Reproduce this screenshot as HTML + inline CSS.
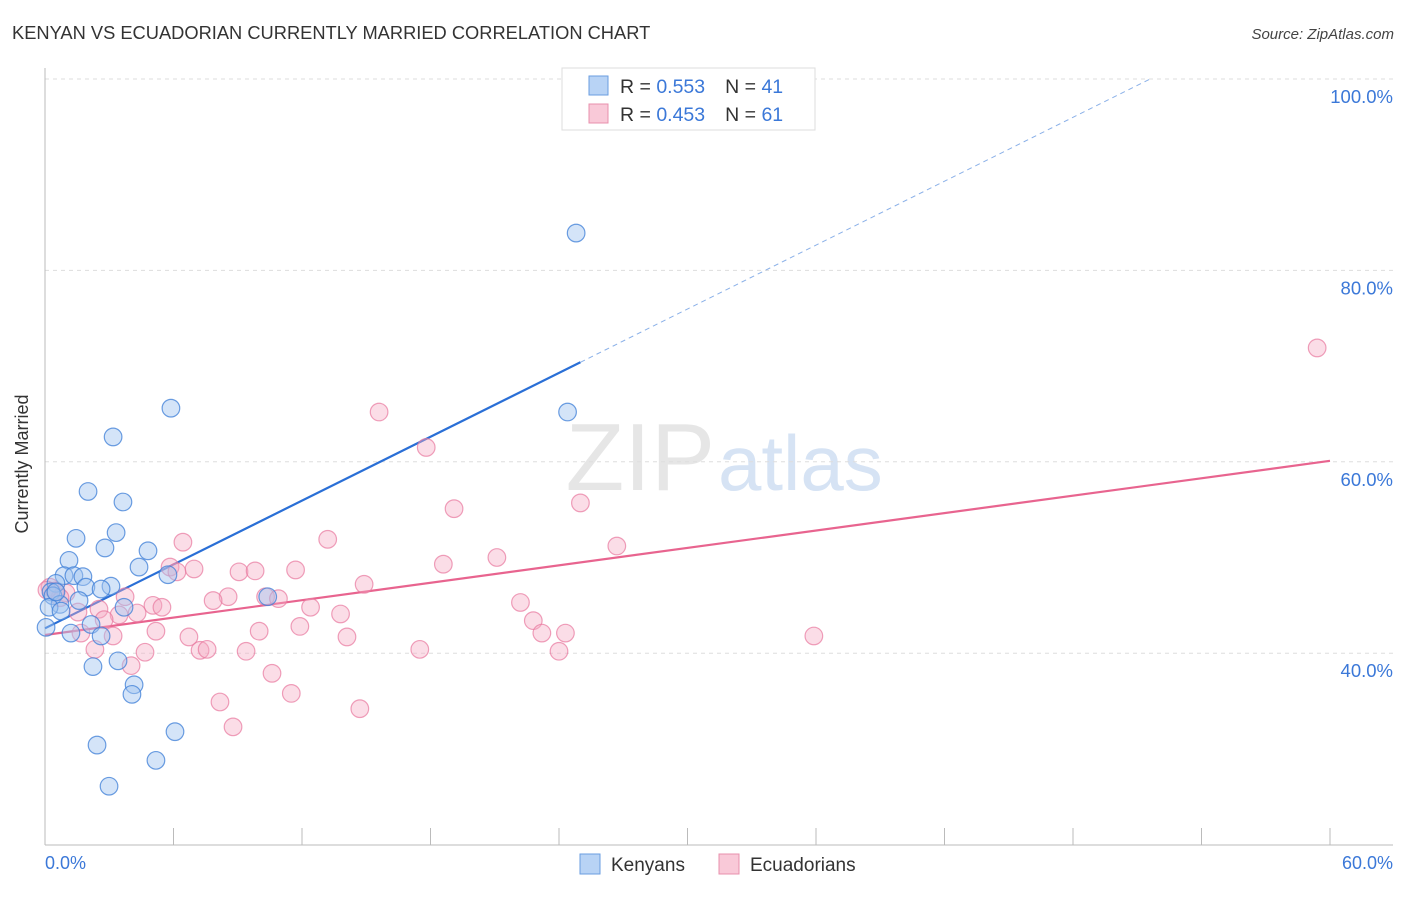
<!DOCTYPE html>
<html><head><meta charset="utf-8"><style>
body{margin:0;background:#fff;font-family:"Liberation Sans",sans-serif;}
svg text{font-family:"Liberation Sans",sans-serif;}
</style></head><body>
<svg id="chart" width="1406" height="892" viewBox="0 0 1406 892">
<text x="12" y="39" font-size="18.3" fill="#333">KENYAN VS ECUADORIAN CURRENTLY MARRIED CORRELATION CHART</text>
<text x="1394" y="39" font-size="15" fill="#444" font-style="italic" text-anchor="end">Source: ZipAtlas.com</text>
<text x="715" y="490" font-size="96" fill="#e6e6e6" font-family="Liberation Serif" text-anchor="end">ZIP</text>
<text x="718" y="490" font-size="78" fill="#d6e3f4">atlas</text>
<g id="grid"></g>
<line x1="45" y1="68" x2="45" y2="845" stroke="#bbb"/>
<line x1="45" y1="845" x2="1393" y2="845" stroke="#bbb"/>
<g id="xticks"></g>
<text x="20" y="456" font-size="18" fill="#333" transform="rotate(-90 28 456)" text-anchor="middle">Currently Married</text>
<text x="45" y="869" font-size="18" fill="#3b78d8">0.0%</text>
<text x="1393" y="869" font-size="18" fill="#3b78d8" text-anchor="end">60.0%</text>
<g id="lines"></g>
<g id="pts"></g>
<g>
<rect x="562" y="68" width="253" height="62" fill="#fff" stroke="#ddd"/>
<rect x="589" y="76" width="19" height="19" fill="#b8d3f5" stroke="#6a9ee0"/>
<rect x="589" y="104" width="19" height="19" fill="#f9c9d8" stroke="#e890ad"/>
<text x="620" y="93" font-size="19.5" fill="#333">R = <tspan fill="#3b78d8">0.553</tspan><tspan dx="20">N = </tspan><tspan fill="#3b78d8">41</tspan></text>
<text x="620" y="121" font-size="19.5" fill="#333">R = <tspan fill="#3b78d8">0.453</tspan><tspan dx="20">N = </tspan><tspan fill="#3b78d8">61</tspan></text>
</g>
<g>
<rect x="580" y="854" width="20" height="20" fill="#b8d3f5" stroke="#6a9ee0"/>
<text x="611" y="871" font-size="19" fill="#333">Kenyans</text>
<rect x="719" y="854" width="20" height="20" fill="#f9c9d8" stroke="#e890ad"/>
<text x="750" y="871" font-size="19" fill="#333">Ecuadorians</text>
</g>
</svg>
<script>
const yTicks=[40,60,80,100];
const yTickLabels=["40.0%","60.0%","80.0%","100.0%"];
const kenX=[24.8,24.4,5.88,3.18,2.01,3.64,1.45,3.32,2.80,4.81,1.12,4.39,5.74,0.89,1.35,1.77,0.51,1.91,3.08,2.62,0.28,0.37,0.70,1.59,3.69,0.19,10.4,2.15,1.21,2.62,0.05,3.41,2.24,4.16,4.06,2.43,5.18,6.07,2.99,0.51,0.75];
const kenY=[83.9,65.2,65.6,62.6,56.9,55.8,52.0,52.6,51.0,50.7,49.7,49.0,48.2,48.1,48.1,48.0,47.3,46.9,47.0,46.7,46.4,46.0,45.1,45.5,44.8,44.8,45.9,43.0,42.1,41.8,42.7,39.2,38.6,36.7,35.7,30.4,28.8,31.8,26.1,46.4,44.4];
const ecuX=[59.4,15.6,17.8,19.1,25.0,13.2,6.44,26.7,21.1,18.6,5.84,6.96,6.16,9.06,9.81,11.7,14.9,0.23,0.98,8.55,7.85,10.3,10.9,3.74,5.04,5.46,12.4,2.52,22.2,4.30,3.46,13.8,2.76,22.8,11.9,5.18,10.0,1.68,23.2,24.3,3.18,6.72,14.1,35.9,2.33,4.67,7.24,7.57,9.39,17.5,24.0,4.02,10.6,11.5,8.17,14.7,8.78,0.47,0.70,0.09,1.54];
const ecuY=[71.9,65.2,61.5,55.1,55.7,51.9,51.6,51.2,50.0,49.3,49.0,48.8,48.5,48.5,48.6,48.7,47.2,46.9,46.3,45.9,45.5,45.9,45.7,45.9,45.0,44.8,44.8,44.6,45.3,44.2,44.0,44.1,43.5,43.4,42.8,42.3,42.3,42.1,42.1,42.1,41.8,41.7,41.7,41.8,40.4,40.1,40.3,40.4,40.2,40.4,40.2,38.7,37.9,35.8,34.9,34.2,32.3,46.5,45.8,46.6,44.3];
const kenLine=[0,42.6,25.0,70.4,51.6,100];
const ecuLine=[0,41.9,60,60.1];
const NS="http://www.w3.org/2000/svg";
const xs=v=>45+v*(1285/60);
const ys=v=>79+(100-v)*9.57;
function mk(tag,attrs,parent){const e=document.createElementNS(NS,tag);for(const k in attrs)e.setAttribute(k,attrs[k]);parent.appendChild(e);return e;}
const grid=document.getElementById('grid');
yTicks.forEach((t,i)=>{
 const l=mk('line',{x1:45,x2:1393,y1:ys(t),y2:ys(t),stroke:'#ddd','stroke-dasharray':'4,4'},grid);
 
 
 const tx=mk('text',{x:1393,y:ys(t)+24,'font-size':18.5,fill:'#3b78d8','text-anchor':'end'},grid);
 tx.textContent=yTickLabels[i];
 
 
});
const xt=document.getElementById('xticks');
for(let i=0;i<=10;i++){
 const l=mk('line',{x1:xs(i*6),x2:xs(i*6),y1:828,y2:845,stroke:'#bbb'},xt);
 
 
}
const lg=document.getElementById('lines');
let a=mk('line',{x1:xs(kenLine[0]),y1:ys(kenLine[1]),x2:xs(kenLine[2]),y2:ys(kenLine[3]),stroke:'#2a6fd6','stroke-width':2.2},lg);


a=mk('line',{x1:xs(kenLine[2]),y1:ys(kenLine[3]),x2:xs(kenLine[4]),y2:ys(kenLine[5]),stroke:'#8ab0e8','stroke-width':1,'stroke-dasharray':'5,4'},lg);


a=mk('line',{x1:xs(ecuLine[0]),y1:ys(ecuLine[1]),x2:xs(ecuLine[2]),y2:ys(ecuLine[3]),stroke:'#e8648f','stroke-width':2.2},lg);


const pg=document.getElementById('pts');
ecuX.forEach((x,i)=>{
 const c=mk('circle',{cx:xs(x),cy:ys(ecuY[i]),r:8.8,fill:'rgba(246,170,195,0.4)',stroke:'rgba(232,120,158,0.7)','stroke-width':1.2},pg);
 
 
});
kenX.forEach((x,i)=>{
 const c=mk('circle',{cx:xs(x),cy:ys(kenY[i]),r:8.8,fill:'rgba(160,196,240,0.45)',stroke:'rgba(60,125,215,0.75)','stroke-width':1.2},pg);
 
 
});
</script>
</body></html>
